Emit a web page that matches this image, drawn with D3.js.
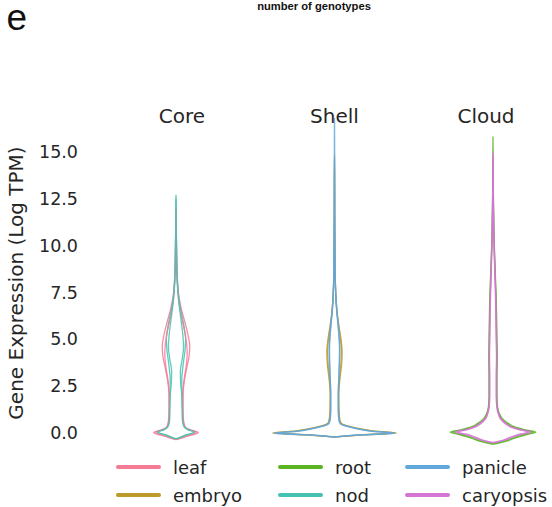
<!DOCTYPE html>
<html>
<head>
<meta charset="utf-8">
<script src="https://cdn.jsdelivr.net/npm/d3@7"></script>
<style>
  html, body { margin: 0; padding: 0; background: #fff; }
  svg { display: block; }
</style>
</head>
<body>
<svg id="chart" width="552" height="507"></svg>
<script>
// Pangenome classes (facets) and tissues (hue)
const groups = ["Core", "Shell", "Cloud"];
const tissues = ["leaf", "embryo", "root", "nod", "panicle", "caryopsis"];
const tissueColors = ["#f47a95", "#bd9a2c", "#58b521", "#47c2b2", "#62a7da", "#d674d6"];
const yTicks = [0, 2.5, 5, 7.5, 10, 12.5, 15];

// Kernel density outlines: [log TPM, density]
const coreLeafA = [[-0.36,0],[-0.3,0.06],[-0.18,0.17],[0.03,0.35],[0.15,0.24],[0.3,0.15],[0.6,0.12],[1.2,0.11],[2.0,0.11],[2.8,0.13],[3.5,0.17],[4.1,0.205],[4.6,0.215],[5.2,0.19],[5.9,0.14],[6.6,0.085],[7.3,0.045],[8.2,0.022],[9.2,0.012],[10.3,0.007],[11.2,0.004],[11.8,0]];
const coreLeafB = [[-0.34,0],[-0.28,0.06],[-0.16,0.16],[0.04,0.33],[0.16,0.22],[0.32,0.14],[0.6,0.115],[1.2,0.105],[2.0,0.105],[2.8,0.125],[3.6,0.16],[4.2,0.175],[4.8,0.165],[5.5,0.13],[6.2,0.085],[7.0,0.045],[7.9,0.022],[9.0,0.011],[10.2,0.006],[11.4,0.003],[12.0,0]];
const coreNodA = [[-0.32,0],[-0.26,0.05],[-0.14,0.14],[0.05,0.28],[0.17,0.19],[0.34,0.125],[0.65,0.1],[1.3,0.095],[2.0,0.09],[2.7,0.072],[3.3,0.068],[3.9,0.095],[4.6,0.118],[5.3,0.105],[6.0,0.08],[6.8,0.05],[7.6,0.028],[8.6,0.014],[9.8,0.008],[11.2,0.004],[12.7,0]];
const coreNodB = [[-0.3,0],[-0.25,0.05],[-0.13,0.13],[0.05,0.3],[0.17,0.2],[0.34,0.13],[0.65,0.105],[1.3,0.1],[2.0,0.095],[2.8,0.09],[3.6,0.11],[4.4,0.14],[5.0,0.15],[5.7,0.125],[6.4,0.085],[7.2,0.045],[8.1,0.022],[9.2,0.011],[10.5,0.006],[11.8,0.003],[12.5,0]];

const shellEmbryoA = [[-0.22,0],[-0.17,0.18],[-0.1,0.48],[0.0,0.97],[0.1,0.62],[0.2,0.44],[0.3,0.3],[0.42,0.16],[0.55,0.1],[0.8,0.08],[1.3,0.07],[2.1,0.068],[2.9,0.085],[3.6,0.11],[4.3,0.12],[5.0,0.102],[5.7,0.07],[6.4,0.042],[7.2,0.024],[8.1,0.013],[9.2,0.008],[10.5,0.005],[12,0.003],[13.5,0.002],[14.8,0]];
const shellEmbryoB = [[-0.21,0],[-0.16,0.18],[-0.09,0.46],[0.01,0.93],[0.11,0.58],[0.21,0.4],[0.31,0.27],[0.43,0.14],[0.56,0.09],[0.8,0.075],[1.3,0.066],[2.1,0.064],[2.9,0.078],[3.7,0.1],[4.4,0.108],[5.1,0.09],[5.8,0.062],[6.5,0.038],[7.3,0.022],[8.2,0.012],[9.4,0.007],[10.8,0.004],[12.5,0.002],[14.2,0]];
const shellPanicleA = [[-0.22,0],[-0.17,0.17],[-0.1,0.46],[-0.01,0.95],[0.09,0.6],[0.19,0.42],[0.29,0.28],[0.41,0.14],[0.54,0.085],[0.8,0.068],[1.3,0.06],[2.1,0.06],[2.9,0.068],[3.7,0.078],[4.5,0.082],[5.2,0.072],[5.9,0.055],[6.6,0.035],[7.4,0.02],[8.3,0.012],[9.5,0.008],[11,0.005],[12.5,0.004],[14,0.003],[15.5,0.002],[16.8,0]];
const shellPanicleB = [[-0.21,0],[-0.16,0.16],[-0.09,0.44],[0.0,0.92],[0.1,0.57],[0.2,0.39],[0.3,0.26],[0.42,0.13],[0.55,0.08],[0.8,0.064],[1.3,0.058],[2.1,0.058],[2.9,0.066],[3.7,0.074],[4.5,0.078],[5.2,0.068],[5.9,0.05],[6.6,0.032],[7.4,0.018],[8.4,0.011],[9.6,0.007],[11.2,0.004],[13,0.002],[14.6,0]];

const cloudRootA = [[-0.6,0],[-0.54,0.09],[-0.45,0.2],[-0.34,0.29],[-0.21,0.4],[-0.08,0.53],[0.04,0.67],[0.17,0.5],[0.31,0.35],[0.5,0.245],[0.75,0.15],[1.0,0.105],[1.4,0.072],[2.0,0.062],[3.0,0.062],[4.0,0.066],[5.0,0.062],[6.0,0.058],[7.0,0.052],[8.0,0.042],[9.0,0.031],[10.0,0.021],[11.0,0.013],[12.0,0.008],[13.2,0.005],[14.5,0.003],[15.8,0]];
const cloudRootB = [[-0.57,0],[-0.51,0.085],[-0.43,0.18],[-0.32,0.27],[-0.19,0.37],[-0.07,0.49],[0.05,0.63],[0.17,0.46],[0.31,0.32],[0.5,0.22],[0.75,0.135],[1.0,0.096],[1.4,0.066],[2.0,0.057],[3.0,0.057],[4.0,0.06],[5.0,0.056],[6.0,0.052],[7.0,0.047],[8.0,0.038],[9.0,0.028],[10.0,0.019],[11.0,0.012],[12.0,0.007],[13.2,0.004],[14.3,0]];
const cloudCaryopsisA = [[-0.5,0],[-0.45,0.08],[-0.38,0.16],[-0.28,0.23],[-0.16,0.32],[-0.05,0.43],[0.05,0.55],[0.17,0.41],[0.31,0.28],[0.5,0.19],[0.75,0.115],[1.0,0.084],[1.4,0.058],[2.0,0.05],[3.0,0.05],[4.0,0.054],[5.0,0.05],[6.0,0.046],[7.0,0.041],[8.0,0.033],[9.0,0.024],[10.0,0.016],[11.0,0.011],[12.0,0.007],[13.5,0.004],[15.0,0]];
const cloudCaryopsisB = [[-0.53,0],[-0.47,0.08],[-0.4,0.165],[-0.3,0.25],[-0.18,0.34],[-0.06,0.46],[0.05,0.6],[0.17,0.44],[0.31,0.3],[0.5,0.21],[0.75,0.128],[1.0,0.092],[1.4,0.063],[2.0,0.054],[3.0,0.054],[4.0,0.058],[5.0,0.054],[6.0,0.05],[7.0,0.045],[8.0,0.036],[9.0,0.027],[10.0,0.018],[11.0,0.012],[12.0,0.008],[13.4,0.004],[14.8,0]];

// Violins drawn per facet (back to front)
const violins = [
  { group: "Core",  tissue: "leaf",      density: coreLeafA },
  { group: "Core",  tissue: "nod",       density: coreNodB },
  { group: "Core",  tissue: "leaf",      density: coreLeafB },
  { group: "Core",  tissue: "nod",       density: coreNodA },
  { group: "Shell", tissue: "embryo",    density: shellEmbryoA },
  { group: "Shell", tissue: "embryo",    density: shellEmbryoB },
  { group: "Shell", tissue: "panicle",   density: shellPanicleB },
  { group: "Shell", tissue: "panicle",   density: shellPanicleA },
  { group: "Cloud", tissue: "root",      density: cloudRootA },
  { group: "Cloud", tissue: "root",      density: cloudRootB },
  { group: "Cloud", tissue: "caryopsis", density: cloudCaryopsisB },
  { group: "Cloud", tissue: "caryopsis", density: cloudCaryopsisA }
];

const svg = d3.select("#chart");
const font = "'DejaVu Sans', sans-serif";
const textColor = "#262626";

const y = d3.scaleLinear().domain([0, 15]).range([433, 152]);
const xGroup = d3.scalePoint().domain(groups).range([176, 493]);
const w = d3.scaleLinear().domain([0, 1]).range([0, 64]);
const color = d3.scaleOrdinal().domain(tissues).range(tissueColors);

// Panel letter and header
svg.append("text")
  .attr("x", 6.5).attr("y", 29.5)
  .attr("font-family", "'Liberation Sans', Arial, sans-serif")
  .attr("font-size", 37)
  .attr("fill", "#111")
  .text("e");

svg.append("text")
  .attr("x", 314).attr("y", 9.5)
  .attr("text-anchor", "middle")
  .attr("font-family", "'Liberation Sans', Arial, sans-serif")
  .attr("font-weight", "bold")
  .attr("font-size", 11.2)
  .attr("fill", "#111")
  .text("number of genotypes");

// Y axis (no domain line, no ticks)
const yAxis = d3.axisLeft(y)
  .tickValues(yTicks)
  .tickFormat(d3.format(".1f"))
  .tickSize(0)
  .tickPadding(0);

const gy = svg.append("g")
  .attr("transform", "translate(78,0)")
  .call(yAxis);
gy.select(".domain").remove();
gy.selectAll("text")
  .attr("font-family", font)
  .attr("font-size", 17.5)
  .attr("fill", textColor);

svg.append("text")
  .attr("transform", "translate(23,283) rotate(-90)")
  .attr("text-anchor", "middle")
  .attr("font-family", font)
  .attr("font-size", 20)
  .attr("fill", textColor)
  .text("Gene Expression (Log TPM)");

// Facet titles
svg.selectAll("text.facet")
  .data(groups)
  .join("text")
  .attr("class", "facet")
  .attr("x", d => xGroup(d) + (d === "Core" ? 6 : d === "Cloud" ? -7 : 0))
  .attr("y", 123)
  .attr("text-anchor", "middle")
  .attr("font-family", font)
  .attr("font-size", 20)
  .attr("fill", textColor)
  .text(d => d);

// Violin outlines
const area = d3.area()
  .curve(d3.curveMonotoneY)
  .y(d => y(d[0]));

svg.append("g")
  .selectAll("path")
  .data(violins)
  .join("path")
  .attr("d", v => {
    const cx = xGroup(v.group);
    return area.x0(d => cx - w(d[1])).x1(d => cx + w(d[1]))(v.density);
  })
  .attr("fill", "none")
  .attr("stroke", v => color(v.tissue))
  .attr("stroke-width", 1.3)
  .attr("stroke-opacity", 0.85)
  .attr("stroke-linejoin", "round");

// Legend: three columns, two rows, filled column by column
const legendCols = [118, 280, 407];
const legendRows = [467, 495];
const legend = svg.append("g")
  .selectAll("g")
  .data(tissues)
  .join("g")
  .attr("transform", (d, i) => `translate(${legendCols[Math.floor(i / 2)]},${legendRows[i % 2]})`);

legend.append("line")
  .attr("x1", 0).attr("x2", 41)
  .attr("y1", 0).attr("y2", 0)
  .attr("stroke", d => color(d))
  .attr("stroke-width", 4)
  .attr("stroke-linecap", "round");

legend.append("text")
  .attr("x", 55).attr("y", 6.5)
  .attr("font-family", font)
  .attr("font-size", 18)
  .attr("fill", textColor)
  .text(d => d);
</script>
</body>
</html>
